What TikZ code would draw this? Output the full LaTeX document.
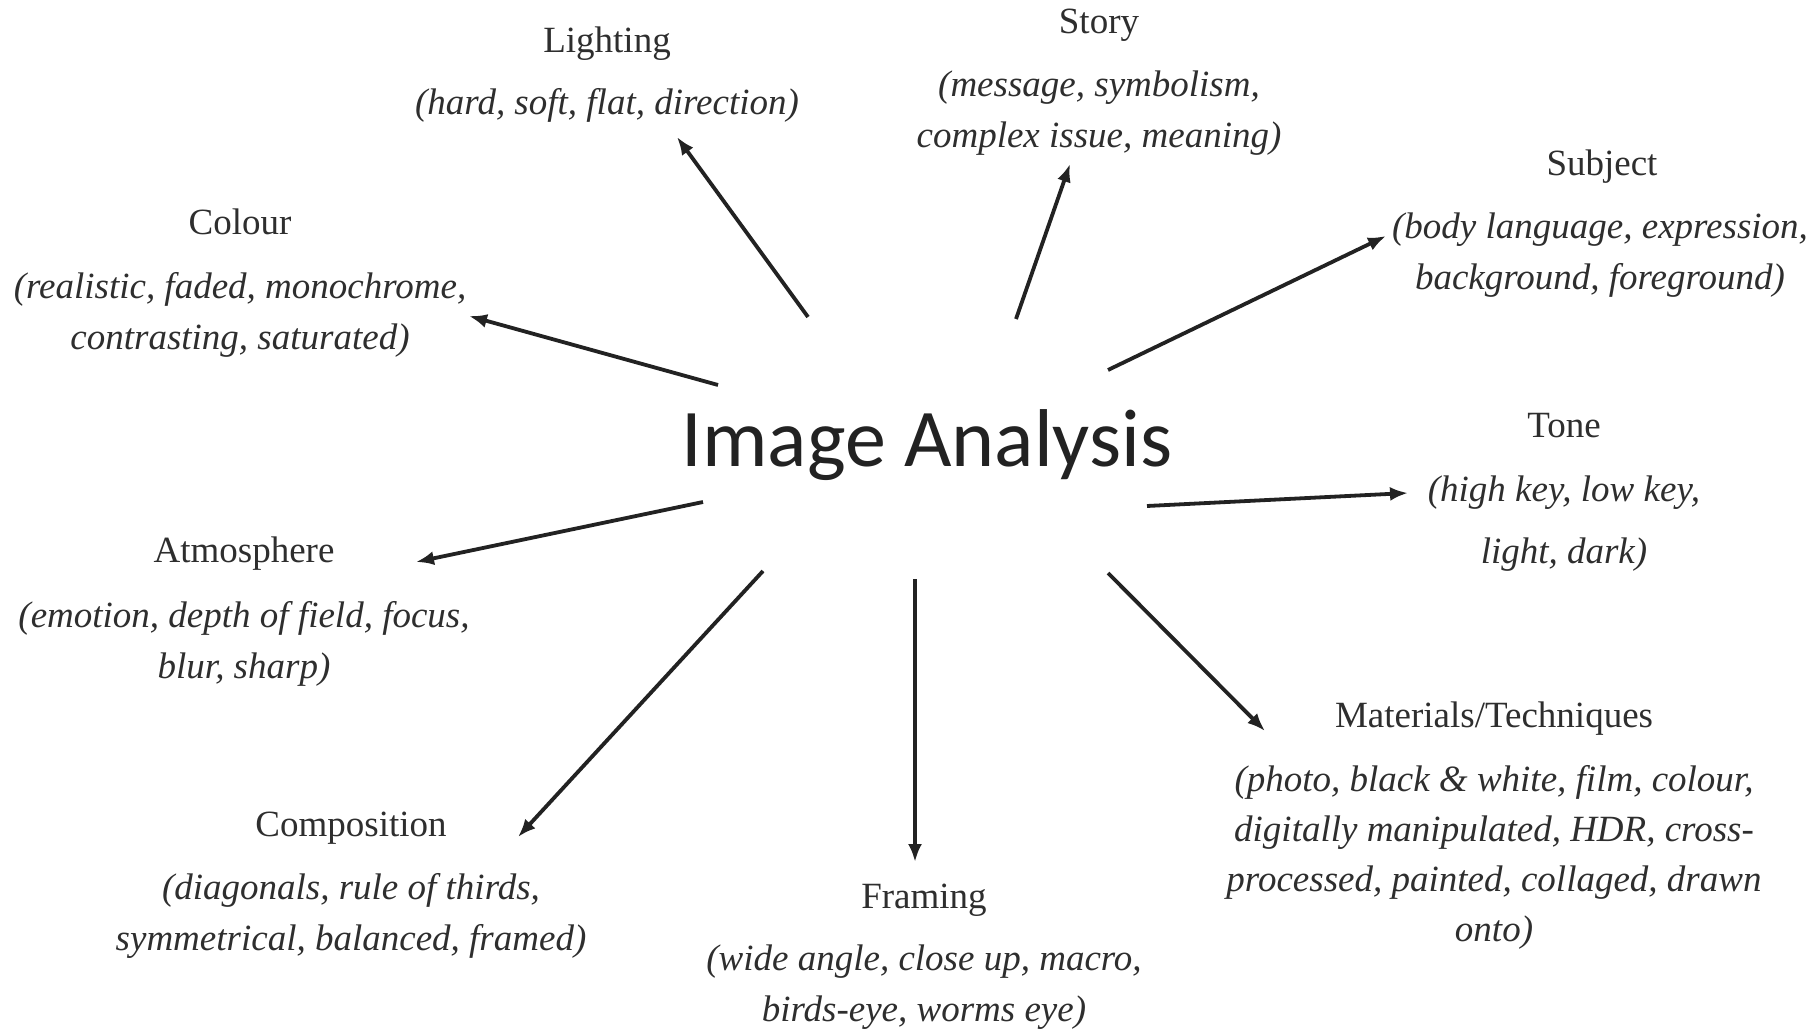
\documentclass[tikz,border=0pt]{standalone}
\usepackage{fontspec}
\setmainfont{Liberation Serif}
\newfontfamily\titlefont{Carlito}
\usetikzlibrary{arrows.meta}
\definecolor{ink}{HTML}{222222}
\definecolor{txt}{HTML}{2E2E2E}
\begin{document}
\begin{tikzpicture}[x=0.5pt,y=-0.5pt,
  head/.style={inner sep=0pt,anchor=base,text=txt,font=\fontsize{18.5}{25.5}\selectfont},
  sub/.style={inner sep=0pt,anchor=base,align=center,text=txt,font=\fontsize{18.5}{25.5}\selectfont\itshape},
  arr/.style={draw=ink,line width=1.9pt,-{Latex[length=9pt,width=7pt]}}]
\useasboundingbox[fill=white] (0,0) rectangle (1814,1031);

% centre
\node[inner sep=0pt,anchor=base,text=ink,font=\fontsize{41}{48}\titlefont] (ia) at (927,467) {Image Analysis};

% Lighting
\node[head] (lighting) at (607,53) {Lighting};
\node[sub] (lightingsub) at (607,115) {(hard, soft, flat, direction)};
% Story
\node[head] (story) at (1099,34) {Story};
\node[sub] (storysub) at (1099,148) {(message, symbolism,\\complex issue, meaning)};
% Subject
\node[head] (subject) at (1602,176) {Subject};
\node[sub] (subjectsub) at (1600,290) {(body language, expression,\\background, foreground)};
% Colour
\node[head] (colour) at (240,235) {Colour};
\node[sub] (coloursub) at (240,350) {(realistic, faded, monochrome,\\contrasting, saturated)};
% Tone
\node[head] (tone) at (1564,438) {Tone};
\node[sub,font=\fontsize{18.5}{31}\selectfont\itshape] (tonesub) at (1564,563) {(high key, low key,\\light, dark)};
% Atmosphere
\node[head] (atmos) at (244,562) {Atmosphere};
\node[sub] (atmossub) at (244,678) {(emotion, depth of field, focus,\\blur, sharp)};
% Materials
\node[head] (mat) at (1494,727) {Materials/Techniques};
\node[sub,font=\fontsize{18.5}{25}\selectfont\itshape] (matsub) at (1494,941) {(photo, black \& white, film, colour,\\digitally manipulated, HDR, cross-\\processed, painted, collaged, drawn\\onto)};
% Composition
\node[head] (comp) at (351,836) {Composition};
\node[sub] (compsub) at (351,950) {(diagonals, rule of thirds,\\symmetrical, balanced, framed)};
% Framing
\node[head] (framing) at (924,908) {Framing};
\node[sub] (framingsub) at (924,1021) {(wide angle, close up, macro,\\birds-eye, worms eye)};

% arrow ends
\coordinate (sL) at (808,317);  \coordinate (eL) at (677,137);
\coordinate (sS) at (1016,319); \coordinate (eS) at (1070,164);
\coordinate (sB) at (1108,370); \coordinate (eB) at (1386,236);
\coordinate (sC) at (718,385);  \coordinate (eC) at (469,316);
\coordinate (sT) at (1147,506); \coordinate (eT) at (1408,493);
\coordinate (sA) at (703,502);  \coordinate (eA) at (416,562);
\coordinate (sP) at (763,571);  \coordinate (eP) at (518,837);
\coordinate (sF) at (915,579);  \coordinate (eF) at (915,862);
\coordinate (sM) at (1108,573); \coordinate (eM) at (1265,731);

\draw[arr] (sL) -- (eL);
\draw[arr] (sS) -- (eS);
\draw[arr] (sB) -- (eB);
\draw[arr] (sC) -- (eC);
\draw[arr] (sT) -- (eT);
\draw[arr] (sA) -- (eA);
\draw[arr] (sP) -- (eP);
\draw[arr] (sF) -- (eF);
\draw[arr] (sM) -- (eM);
\end{tikzpicture}
\end{document}
